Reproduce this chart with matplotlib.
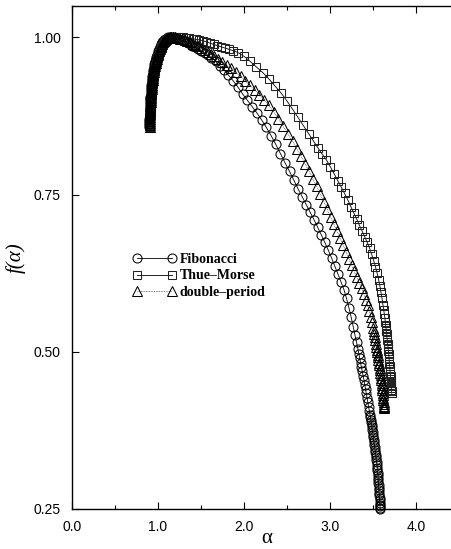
import matplotlib
matplotlib.use("Agg")
import matplotlib.pyplot as plt
import numpy as np

# f(alpha) spectra, points as (alpha, f)
fib_pts = [
    (0.900, 0.858), (0.900, 0.861), (0.900, 0.864), (0.901, 0.867), (0.901, 0.870),
    (0.902, 0.873), (0.902, 0.876), (0.903, 0.879), (0.904, 0.882), (0.905, 0.885),
    (0.906, 0.888), (0.907, 0.891), (0.908, 0.894), (0.909, 0.897), (0.910, 0.900),
    (0.911, 0.903), (0.913, 0.906), (0.914, 0.909), (0.916, 0.912), (0.917, 0.915),
    (0.919, 0.918), (0.921, 0.921), (0.923, 0.924), (0.925, 0.927), (0.928, 0.930),
    (0.930, 0.933), (0.933, 0.936), (0.936, 0.939), (0.939, 0.942), (0.942, 0.945),
    (0.946, 0.948), (0.950, 0.951), (0.954, 0.954), (0.959, 0.957), (0.964, 0.960),
    (0.969, 0.963), (0.975, 0.966), (0.981, 0.969), (0.988, 0.972), (0.995, 0.975),
    (1.003, 0.978), (1.011, 0.981), (1.020, 0.984), (1.030, 0.987), (1.041, 0.990),
    (1.050, 0.992), (1.060, 0.994), (1.072, 0.996), (1.087, 0.998), (1.104, 0.999),
    (1.122, 1.000), (1.140, 1.000), (1.165, 1.000), (1.190, 1.000), (1.218, 0.999),
    (1.246, 0.998), (1.275, 0.996), (1.305, 0.994), (1.336, 0.992), (1.368, 0.990),
    (1.401, 0.987), (1.435, 0.984), (1.470, 0.981), (1.506, 0.978), (1.543, 0.975),
    (1.581, 0.972), (1.620, 0.968), (1.670, 0.962), (1.720, 0.955), (1.770, 0.948),
    (1.820, 0.940), (1.875, 0.931), (1.930, 0.921), (1.985, 0.910), (2.040, 0.900),
    (2.095, 0.890), (2.150, 0.880), (2.205, 0.869), (2.260, 0.857), (2.315, 0.844),
    (2.370, 0.830), (2.425, 0.815), (2.480, 0.800), (2.530, 0.787), (2.580, 0.773),
    (2.630, 0.759), (2.680, 0.746), (2.725, 0.734), (2.770, 0.722), (2.815, 0.710),
    (2.858, 0.698), (2.900, 0.686), (2.940, 0.674), (2.980, 0.662), (3.020, 0.649),
    (3.058, 0.636), (3.095, 0.623), (3.130, 0.611), (3.163, 0.599), (3.193, 0.585),
    (3.221, 0.570), (3.247, 0.555), (3.271, 0.540), (3.292, 0.526), (3.310, 0.515),
    (3.326, 0.504), (3.337, 0.497), (3.347, 0.490), (3.357, 0.483), (3.367, 0.476),
    (3.377, 0.469), (3.387, 0.462), (3.396, 0.455), (3.405, 0.448), (3.414, 0.441),
    (3.423, 0.434), (3.432, 0.427), (3.441, 0.420), (3.450, 0.413), (3.458, 0.406),
    (3.466, 0.400), (3.471, 0.396), (3.476, 0.392), (3.481, 0.388), (3.485, 0.384),
    (3.490, 0.380), (3.494, 0.376), (3.498, 0.372), (3.502, 0.368), (3.506, 0.364),
    (3.510, 0.360), (3.514, 0.356), (3.518, 0.352), (3.522, 0.348), (3.526, 0.344),
    (3.530, 0.340), (3.534, 0.336), (3.537, 0.332), (3.541, 0.328), (3.544, 0.324),
    (3.547, 0.320), (3.550, 0.316), (3.553, 0.312), (3.555, 0.308), (3.558, 0.304),
    (3.560, 0.300), (3.562, 0.296), (3.564, 0.292), (3.567, 0.288), (3.569, 0.284),
    (3.571, 0.280), (3.573, 0.276), (3.575, 0.272), (3.577, 0.268), (3.579, 0.264),
    (3.580, 0.260), (3.582, 0.257), (3.583, 0.254), (3.584, 0.252), (3.585, 0.250),
]

tm_pts = [
    (0.910, 0.858), (0.910, 0.861), (0.910, 0.864), (0.911, 0.867), (0.911, 0.870),
    (0.912, 0.873), (0.912, 0.876), (0.913, 0.879), (0.914, 0.882), (0.915, 0.885),
    (0.916, 0.888), (0.917, 0.891), (0.918, 0.894), (0.919, 0.897), (0.920, 0.900),
    (0.922, 0.903), (0.924, 0.906), (0.925, 0.909), (0.927, 0.912), (0.929, 0.915),
    (0.931, 0.918), (0.933, 0.921), (0.935, 0.924), (0.938, 0.927), (0.941, 0.930),
    (0.944, 0.933), (0.947, 0.936), (0.950, 0.939), (0.954, 0.942), (0.958, 0.945),
    (0.962, 0.948), (0.966, 0.951), (0.971, 0.954), (0.976, 0.957), (0.981, 0.960),
    (0.987, 0.963), (0.993, 0.966), (1.000, 0.969), (1.007, 0.972), (1.015, 0.975),
    (1.023, 0.978), (1.032, 0.981), (1.041, 0.984), (1.051, 0.987), (1.062, 0.990),
    (1.072, 0.992), (1.083, 0.994), (1.096, 0.996), (1.112, 0.998), (1.130, 0.999),
    (1.150, 1.000), (1.175, 1.000), (1.200, 1.000), (1.230, 1.000), (1.262, 1.000),
    (1.295, 1.000), (1.330, 0.999), (1.366, 0.999), (1.403, 0.998), (1.441, 0.997),
    (1.480, 0.996), (1.520, 0.995), (1.561, 0.993), (1.603, 0.991), (1.646, 0.989),
    (1.690, 0.987), (1.735, 0.985), (1.781, 0.983), (1.828, 0.981), (1.876, 0.979),
    (1.930, 0.976), (2.000, 0.970), (2.072, 0.962), (2.145, 0.953), (2.220, 0.944),
    (2.290, 0.934), (2.360, 0.923), (2.430, 0.912), (2.500, 0.899), (2.565, 0.886),
    (2.628, 0.873), (2.690, 0.860), (2.752, 0.847), (2.810, 0.835), (2.862, 0.824),
    (2.912, 0.814), (2.960, 0.805), (3.006, 0.794), (3.050, 0.783), (3.092, 0.772),
    (3.132, 0.762), (3.170, 0.752), (3.207, 0.742), (3.243, 0.731), (3.278, 0.721),
    (3.312, 0.711), (3.344, 0.701), (3.375, 0.692), (3.405, 0.683), (3.434, 0.674),
    (3.461, 0.665), (3.486, 0.655), (3.509, 0.645), (3.530, 0.635), (3.549, 0.625),
    (3.566, 0.615), (3.581, 0.605), (3.594, 0.595), (3.606, 0.585), (3.617, 0.575),
    (3.627, 0.566), (3.633, 0.560), (3.639, 0.554), (3.644, 0.548), (3.648, 0.543),
    (3.652, 0.538), (3.656, 0.533), (3.660, 0.528), (3.664, 0.523), (3.668, 0.518),
    (3.672, 0.513), (3.675, 0.509), (3.678, 0.505), (3.681, 0.501), (3.683, 0.497),
    (3.686, 0.493), (3.688, 0.489), (3.691, 0.485), (3.693, 0.481), (3.696, 0.477),
    (3.698, 0.473), (3.700, 0.469), (3.702, 0.465), (3.705, 0.461), (3.707, 0.457),
    (3.709, 0.454), (3.710, 0.451), (3.712, 0.448), (3.713, 0.445), (3.715, 0.442),
    (3.716, 0.439), (3.717, 0.437), (3.718, 0.435), (3.719, 0.434),
]

dp_pts = [
    (0.905, 0.858), (0.905, 0.861), (0.905, 0.864), (0.906, 0.867), (0.906, 0.870),
    (0.907, 0.873), (0.907, 0.876), (0.908, 0.879), (0.909, 0.882), (0.910, 0.885),
    (0.911, 0.888), (0.912, 0.891), (0.913, 0.894), (0.914, 0.897), (0.915, 0.900),
    (0.917, 0.903), (0.918, 0.906), (0.920, 0.909), (0.921, 0.912), (0.923, 0.915),
    (0.925, 0.918), (0.927, 0.921), (0.929, 0.924), (0.932, 0.927), (0.934, 0.930),
    (0.937, 0.933), (0.940, 0.936), (0.943, 0.939), (0.946, 0.942), (0.950, 0.945),
    (0.954, 0.948), (0.958, 0.951), (0.962, 0.954), (0.967, 0.957), (0.972, 0.960),
    (0.978, 0.963), (0.984, 0.966), (0.990, 0.969), (0.997, 0.972), (1.005, 0.975),
    (1.013, 0.978), (1.021, 0.981), (1.030, 0.984), (1.040, 0.987), (1.051, 0.990),
    (1.061, 0.992), (1.071, 0.994), (1.084, 0.996), (1.099, 0.998), (1.116, 0.999),
    (1.135, 1.000), (1.154, 1.000), (1.176, 1.000), (1.200, 1.000), (1.226, 0.999),
    (1.253, 0.998), (1.281, 0.997), (1.310, 0.996), (1.340, 0.994), (1.371, 0.992),
    (1.403, 0.990), (1.436, 0.988), (1.470, 0.986), (1.505, 0.983), (1.541, 0.980),
    (1.578, 0.977), (1.616, 0.974), (1.655, 0.970), (1.700, 0.966), (1.750, 0.961),
    (1.800, 0.956), (1.850, 0.951), (1.905, 0.945), (1.960, 0.938), (2.015, 0.931),
    (2.070, 0.924), (2.125, 0.917), (2.180, 0.909), (2.235, 0.901), (2.290, 0.892),
    (2.345, 0.882), (2.400, 0.871), (2.455, 0.859), (2.510, 0.847), (2.565, 0.835),
    (2.615, 0.823), (2.665, 0.811), (2.712, 0.799), (2.758, 0.787), (2.802, 0.775),
    (2.845, 0.763), (2.887, 0.751), (2.928, 0.739), (2.968, 0.727), (3.007, 0.715),
    (3.045, 0.703), (3.082, 0.692), (3.118, 0.681), (3.153, 0.670), (3.187, 0.659),
    (3.220, 0.648), (3.252, 0.638), (3.283, 0.628), (3.313, 0.619), (3.342, 0.610),
    (3.369, 0.601), (3.394, 0.592), (3.417, 0.583), (3.438, 0.574), (3.457, 0.565),
    (3.474, 0.556), (3.489, 0.547), (3.503, 0.538), (3.510, 0.533), (3.517, 0.528),
    (3.523, 0.523), (3.529, 0.518), (3.535, 0.513), (3.541, 0.508), (3.547, 0.503),
    (3.552, 0.499), (3.556, 0.495), (3.561, 0.491), (3.565, 0.487), (3.569, 0.483),
    (3.573, 0.479), (3.577, 0.475), (3.581, 0.471), (3.585, 0.467), (3.589, 0.463),
    (3.593, 0.459), (3.597, 0.455), (3.600, 0.451), (3.604, 0.447), (3.607, 0.443),
    (3.610, 0.439), (3.613, 0.435), (3.616, 0.431), (3.619, 0.427), (3.622, 0.423),
    (3.624, 0.420), (3.626, 0.417), (3.628, 0.414), (3.629, 0.412), (3.630, 0.411),
]

labels = ["Fibonacci", "Thue\u2013Morse", "double\u2013period"]
xticks = [0.0, 1.0, 2.0, 3.0, 4.0]
yticks = [0.25, 0.50, 0.75, 1.00]

fig = plt.figure(figsize=(4.52, 5.49), dpi=100)
ax = fig.add_axes([72 / 452, 1 - 509 / 549, 380 / 452, 503 / 549])

fib = np.array(fib_pts)
tm = np.array(tm_pts)
dp = np.array(dp_pts)

ax.plot(fib[:, 0], fib[:, 1], color="black", lw=0.6, marker="o", ms=6.5,
        mfc="none", mec="black", mew=0.75, label=labels[0], clip_on=False)
ax.plot(tm[:, 0], tm[:, 1], color="black", lw=0.6, marker="s", ms=5.8,
        mfc="none", mec="#222222", mew=0.75, label=labels[1], clip_on=False)
ax.plot(dp[:, 0], dp[:, 1], color="#555555", lw=0.6, ls=(0, (1, 1)), marker="^",
        ms=6.5, mfc="none", mec="black", mew=0.75, label=labels[2], clip_on=False)

ax.set_xlim(0, 4.42)
ax.set_ylim(0.25, 1.05)
ax.set_xticks(xticks)
ax.set_xticks(np.arange(0.5, 4.5, 1.0), minor=True)
ax.set_xticklabels([f"{v:.1f}" for v in xticks])
ax.set_yticks(yticks)
ax.set_yticklabels([f"{v:.2f}" for v in yticks])
ax.tick_params(which="both", direction="in", top=True, right=False,
               labelsize=10, width=0.8)
ax.tick_params(which="major", length=5, pad=8)
ax.tick_params(which="minor", length=3)
for lbl in ax.get_xticklabels() + ax.get_yticklabels():
    lbl.set_family("Liberation Sans")
for sp in ax.spines.values():
    sp.set_linewidth(1.0)

ax.set_xlabel("\u03b1", family="Liberation Serif", fontsize=15)
ax.xaxis.label.set_va("center")
ax.xaxis.set_label_coords((267 - 72) / 380, -0.058)
ax.set_ylabel("f(\u03b1)", family="Liberation Serif", style="italic",
              fontsize=15, labelpad=6)

ax.legend(loc="upper left", bbox_to_anchor=(0.160, 0.509), frameon=False,
          borderpad=0, borderaxespad=0, numpoints=2, handlelength=3.1,
          handletextpad=0.27, labelspacing=0.25,
          prop={"family": "Liberation Serif", "weight": "bold", "size": 10})

fig.savefig("out.png", dpi=100)
